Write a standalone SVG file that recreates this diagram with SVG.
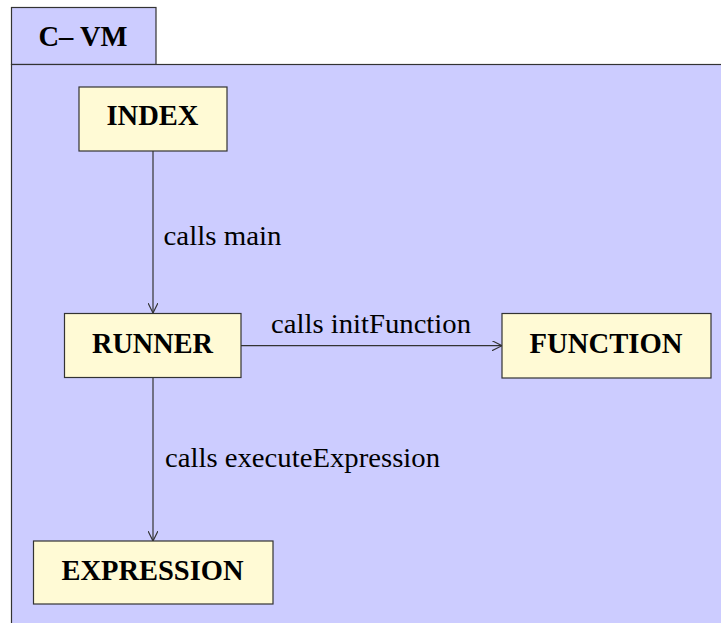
<svg xmlns="http://www.w3.org/2000/svg" width="721" height="623" viewBox="0 0 721 623">
<defs>
<style>
.frame{fill:#ccccff;stroke:#333;stroke-width:1.2}
.box{fill:#fffad5;stroke:#333;stroke-width:1.2}
.nt{font-family:"Liberation Serif","Times New Roman",Times,serif;font-weight:bold;font-size:29px;fill:#000;text-anchor:middle}
.lbl{font-family:"Liberation Serif","Times New Roman",Times,serif;font-size:27.5px;fill:#000}
.edge{fill:none;stroke:#333;stroke-width:1.2}
</style>
<marker id="arr" viewBox="0 0 10 10" refX="10" refY="5" markerWidth="10" markerHeight="10" markerUnits="userSpaceOnUse" orient="auto">
<path d="M0,0 L10,5 L0,10" fill="none" stroke="#333" stroke-width="1.2"/>
</marker>
</defs>
<g id="frame">
<rect class="frame" x="11.5" y="7.5" width="144.5" height="57"/>
<rect class="frame" x="11.5" y="64.5" width="715" height="565"/>
<text class="nt" x="83" y="45.5" textLength="89" lengthAdjust="spacingAndGlyphs">C– VM</text>
</g>
<g id="connectors">
<line class="edge" x1="153" y1="151" x2="153" y2="313" marker-end="url(#arr)"/>
<line class="edge" x1="241" y1="345.7" x2="502" y2="345.7" marker-end="url(#arr)"/>
<line class="edge" x1="153" y1="377" x2="153" y2="541" marker-end="url(#arr)"/>
<text class="lbl" x="163.5" y="245" textLength="118" lengthAdjust="spacingAndGlyphs">calls main</text>
<text class="lbl" x="271" y="333" textLength="200" lengthAdjust="spacingAndGlyphs">calls initFunction</text>
<text class="lbl" x="165" y="467" textLength="275" lengthAdjust="spacingAndGlyphs">calls executeExpression</text>
</g>
<g id="index">
<rect class="box" x="79" y="87" width="148" height="64"/>
<text class="nt" x="152.5" y="125" textLength="92" lengthAdjust="spacingAndGlyphs">INDEX</text>
</g>
<g id="runner">
<rect class="box" x="64.5" y="313.5" width="176.5" height="64"/>
<text class="nt" x="152.5" y="353" textLength="121" lengthAdjust="spacingAndGlyphs">RUNNER</text>
</g>
<g id="function">
<rect class="box" x="502" y="313.5" width="209" height="64.5"/>
<text class="nt" x="606" y="353" textLength="153" lengthAdjust="spacingAndGlyphs">FUNCTION</text>
</g>
<g id="expression">
<rect class="box" x="33.5" y="541" width="239.5" height="63"/>
<text class="nt" x="152.5" y="580" textLength="182" lengthAdjust="spacingAndGlyphs">EXPRESSION</text>
</g>
</svg>
